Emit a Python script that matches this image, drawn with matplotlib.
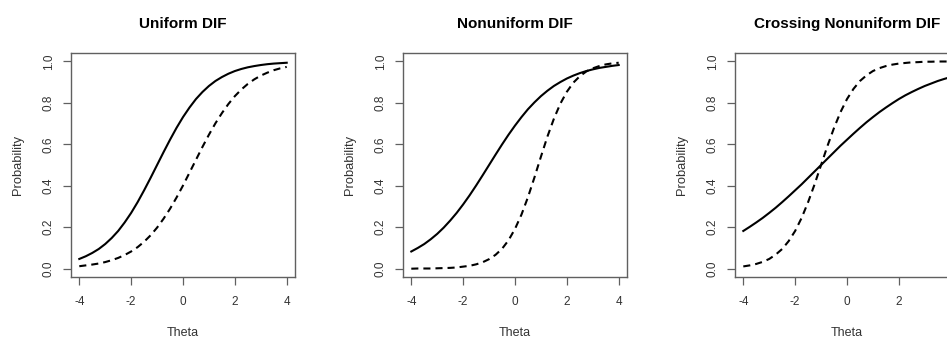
import matplotlib
matplotlib.use("Agg")
import matplotlib.pyplot as plt

plt.rcParams['font.family'] = ['Liberation Sans', 'DejaVu Sans']

# ---- data (theta grid, step 0.25) ----
theta = [-4.0, -3.75, -3.5, -3.25, -3.0, -2.75, -2.5, -2.25, -2.0, -1.75, -1.5,
         -1.25, -1.0, -0.75, -0.5, -0.25, 0.0, 0.25, 0.5, 0.75, 1.0, 1.25, 1.5,
         1.75, 2.0, 2.25, 2.5, 2.75, 3.0, 3.25, 3.5, 3.75, 4.0]

uniform_ref = [0.047, 0.060, 0.076, 0.095, 0.119, 0.148, 0.182, 0.223, 0.269, 0.321, 0.378,
               0.438, 0.500, 0.562, 0.622, 0.679, 0.731, 0.777, 0.818, 0.852, 0.881, 0.905,
               0.924, 0.940, 0.953, 0.963, 0.971, 0.977, 0.982, 0.986, 0.989, 0.991, 0.993]
uniform_foc = [0.012, 0.016, 0.020, 0.025, 0.032, 0.041, 0.052, 0.066, 0.083, 0.104, 0.130,
               0.161, 0.198, 0.241, 0.289, 0.343, 0.401, 0.463, 0.525, 0.587, 0.646, 0.701,
               0.750, 0.794, 0.832, 0.864, 0.891, 0.913, 0.931, 0.945, 0.957, 0.966, 0.973]

nonunif_ref = [0.083, 0.100, 0.119, 0.142, 0.168, 0.198, 0.232, 0.269, 0.310, 0.354, 0.401,
               0.450, 0.500, 0.550, 0.599, 0.646, 0.690, 0.731, 0.769, 0.802, 0.832, 0.858,
               0.881, 0.900, 0.917, 0.931, 0.943, 0.953, 0.961, 0.968, 0.973, 0.978, 0.982]
nonunif_foc = [0.000, 0.001, 0.001, 0.001, 0.002, 0.003, 0.004, 0.006, 0.010, 0.014, 0.021,
               0.031, 0.046, 0.067, 0.096, 0.137, 0.192, 0.261, 0.345, 0.440, 0.540, 0.637,
               0.723, 0.796, 0.853, 0.897, 0.928, 0.951, 0.966, 0.977, 0.985, 0.990, 0.993]

cross_ref = [0.182, 0.202, 0.223, 0.245, 0.269, 0.294, 0.321, 0.349, 0.378, 0.407, 0.438,
             0.469, 0.500, 0.531, 0.562, 0.593, 0.622, 0.651, 0.679, 0.706, 0.731, 0.755,
             0.777, 0.798, 0.818, 0.836, 0.852, 0.867, 0.881, 0.893, 0.905, 0.915, 0.924]
cross_foc = [0.011, 0.016, 0.023, 0.033, 0.047, 0.068, 0.095, 0.133, 0.182, 0.245, 0.321,
             0.407, 0.500, 0.593, 0.679, 0.755, 0.818, 0.867, 0.905, 0.932, 0.953, 0.967,
             0.977, 0.984, 0.989, 0.992, 0.995, 0.996, 0.998, 0.998, 0.999, 0.999, 0.999]

titles = ["Uniform DIF", "Nonuniform DIF", "Crossing Nonuniform DIF"]
solid_series = [uniform_ref, nonunif_ref, cross_ref]
dashed_series = [uniform_foc, nonunif_foc, cross_foc]
x_ticks = [-4, -2, 0, 2, 4]
y_ticks = [0.0, 0.2, 0.4, 0.6, 0.8, 1.0]

W, H = 947, 341
fig = plt.figure(figsize=(W / 100, H / 100), dpi=100)
fig.patch.set_facecolor('white')

# plot boxes in pixels; the third one runs past the right edge like the reference
box_left = [71, 403, 735]
box_w, box_top, box_bot = 224, 53, 277
box_col = '#606060'
txt_col = '#333333'

for i in range(3):
    ax = fig.add_axes([box_left[i] / W, (H - box_bot) / H, box_w / W, (box_bot - box_top) / H])
    ax.plot(theta, solid_series[i], color='black', lw=1.5)
    ax.plot(theta, dashed_series[i], color='black', lw=1.5, linestyle=(0, (3.4, 2.4)))
    ax.set_xlim(-4.32, 4.32)
    ax.set_ylim(-0.04, 1.04)
    ax.set_xticks(x_ticks)
    ax.set_xticklabels([str(t) for t in x_ticks])
    ax.set_yticks(y_ticks)
    ax.set_yticklabels([f"{t:.1f}" for t in y_ticks], rotation=90, va='center')
    for s in ax.spines.values():
        s.set_color(box_col)
        s.set_linewidth(1.0)
    ax.tick_params(axis='both', direction='out', length=5.8, width=0.9, color=box_col,
                   labelsize=8.5, labelcolor=txt_col)
    ax.tick_params(axis='x', pad=8)
    ax.tick_params(axis='y', pad=6)
    ax.set_title(titles[i], fontsize=11, fontweight='bold', pad=18)
    ax.set_xlabel("Theta", fontsize=9, color=txt_col)
    ax.set_ylabel("Probability", fontsize=9.3, color=txt_col)
    ax.xaxis.set_label_coords(0.5, -0.25)
    ax.yaxis.set_label_coords(-0.235, 0.5)
    ax.xaxis.label.set_va('center')
    ax.yaxis.label.set_va('center')

fig.savefig("out.png", dpi=100, facecolor='white')
